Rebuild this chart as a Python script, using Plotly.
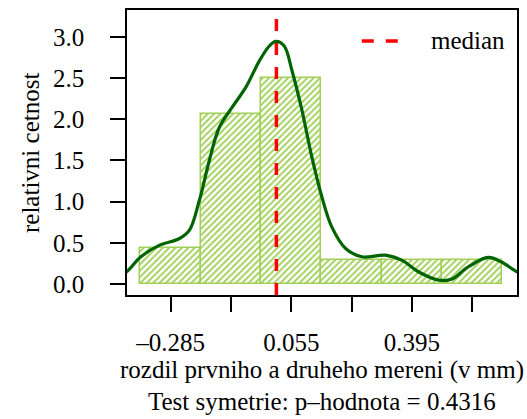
import plotly.graph_objects as go

# ---- data ----
bin_centers = [-0.285, -0.115, 0.055, 0.225, 0.395, 0.565]
bin_width = 0.17
bin_density = [0.441, 2.059, 2.50, 0.294, 0.294, 0.294]

dens_x = [-0.43, -0.409, -0.369, -0.316, -0.260, -0.232, -0.204, -0.176, -0.148, -0.111,
          -0.073, -0.035, -0.007, 0.0115, 0.035, 0.057, 0.085, 0.113, 0.141,
          0.169, 0.208, 0.254, 0.320, 0.366, 0.413, 0.470, 0.506, 0.554,
          0.610, 0.646, 0.691, 0.71]
dens_y = [0.10, 0.149, 0.33, 0.472, 0.553, 0.654, 1.017, 1.50, 1.90, 2.15,
          2.39, 2.71, 2.89, 2.946, 2.89, 2.59, 2.11, 1.54, 1.06,
          0.694, 0.432, 0.331, 0.351, 0.29, 0.149, 0.048, 0.057, 0.21,
          0.323, 0.27, 0.149, 0.12]

median_value = 0.013

x_tickvals = [-0.285, -0.115, 0.055, 0.225, 0.395, 0.565]
x_ticktext = ["\u20130.285", "", "0.055", "", "0.395", ""]
y_tickvals = [0.0, 0.5, 1.0, 1.5, 2.0, 2.5, 3.0]
y_ticktext = ["0.0", "0.5", "1.0", "1.5", "2.0", "2.5", "3.0"]

x_title = "rozdil prvniho a druheho mereni (v mm)"
sub_title = "Test symetrie: p\u2013hodnota = 0.4316"
y_title = "relativni cetnost"
legend_label = "median"

FONT = "Liberation Serif"
FS = 25
XR = [-0.408, 0.691]
YR = [-0.133, 3.327]
BARC = "rgb(160,208,88)"

fig = go.Figure()
fig.add_trace(go.Bar(
    x=bin_centers, y=bin_density, width=[bin_width] * len(bin_centers),
    marker=dict(color="white",
                line=dict(color=BARC, width=1.5),
                pattern=dict(shape="/", fgcolor=BARC, bgcolor="white",
                             size=4.5, solidity=0.4, fillmode="replace")),
    showlegend=False, hoverinfo="skip"))
fig.add_trace(go.Scatter(
    x=dens_x, y=dens_y, mode="lines",
    line=dict(color="#006400", width=3.2, shape="spline", smoothing=1.0),
    showlegend=False, hoverinfo="skip"))
fig.add_trace(go.Scatter(
    x=[median_value, median_value], y=[YR[0], YR[1]], mode="lines",
    line=dict(color="#FF0000", width=3.5, dash="12px,12px"),
    showlegend=False, hoverinfo="skip"))

W, H = 527, 419
L, R, T, B = 127, 8, 9, 124
pw, ph = W - L - R, H - T - B

def px(xpix):
    return (xpix - L) / pw

def py(ypix):
    return (H - B - ypix) / ph

# manual legend
fig.add_shape(type="line", xref="paper", yref="paper",
              x0=px(363), x1=px(402), y0=py(40), y1=py(40),
              line=dict(color="#FF0000", width=3.5, dash="12px,12px"))
fig.add_annotation(text=legend_label, xref="paper", yref="paper",
                   x=px(431), y=py(40), xanchor="left", yanchor="middle",
                   showarrow=False, font=dict(family=FONT, size=FS, color="black"))

fig.add_annotation(text=x_title, xref="paper", yref="paper",
                   x=0.5, y=py(370), xanchor="center", yanchor="middle",
                   showarrow=False, font=dict(family=FONT, size=FS, color="black"))
fig.add_annotation(text=sub_title, xref="paper", yref="paper",
                   x=0.5, y=py(402), xanchor="center", yanchor="middle",
                   showarrow=False, font=dict(family=FONT, size=FS, color="black"))
fig.add_annotation(text=y_title, xref="paper", yref="paper",
                   x=px(30), y=0.5, xanchor="center", yanchor="middle",
                   textangle=-90,
                   showarrow=False, font=dict(family=FONT, size=FS, color="black"))

axis_common = dict(showgrid=False, zeroline=False, showline=True, mirror=True,
                   linecolor="black", linewidth=1.5, ticks="outside", ticklen=15,
                   tickwidth=1.5, tickcolor="black",
                   tickfont=dict(family=FONT, size=FS, color="black"))

fig.update_layout(
    width=W, height=H, margin=dict(l=L, r=R, t=T, b=B),
    paper_bgcolor="white", plot_bgcolor="white",
    bargap=0,
    xaxis=dict(range=XR, tickvals=x_tickvals, ticktext=x_ticktext,
               ticklabelstandoff=9, **axis_common),
    yaxis=dict(range=YR, tickvals=y_tickvals, ticktext=y_ticktext,
               ticklabelstandoff=21, **axis_common),
)

fig.write_html("out.html")
